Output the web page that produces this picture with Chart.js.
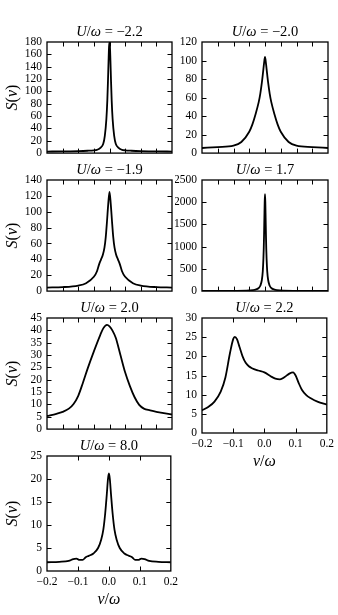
<!DOCTYPE html>
<html>
<head>
<meta charset="utf-8">
<script src="https://cdn.jsdelivr.net/npm/chart.js@4/dist/chart.umd.min.js"></script>
<style>
  html, body { margin: 0; padding: 0; background: #fff; }
  body { width: 338px; height: 615px; position: relative; overflow: hidden; }
  canvas { position: absolute; }
</style>
</head>
<body>
<script>
/* S(nu) spectra for seven U/omega values */

const titles = ['−2.2', '−2.0', '−1.9', '1.7', '2.0', '2.2', '8.0'];

// U/w = -2.2
const nu1 = [-0.2,-0.15,-0.1,-0.07,-0.05,-0.04,-0.03,-0.02,-0.015,-0.01,-0.007,-0.005,-0.003,-0.0015,0,0.0015,0.003,0.005,0.007,0.01,0.015,0.02,0.03,0.04,0.05,0.07,0.1,0.15,0.2];
const s1  = [2.5,2.8,3.2,3.8,4.5,5.3,8,15,28,55,85,115,150,172,180,172,150,115,85,55,28,15,8,5.3,4.5,3.8,3.2,2.8,2.5];

// U/w = -2.0
const nu2 = [-0.2,-0.15,-0.1,-0.075,-0.05,-0.04,-0.03,-0.02,-0.015,-0.01,-0.005,-0.002,0,0.002,0.005,0.01,0.015,0.02,0.03,0.04,0.05,0.075,0.1,0.15,0.2];
const s2  = [5.5,6.5,8,12,23,31,42,55,64,76,91,100,104,100,91,76,64,55,42,31,23,12,8,6.5,5.5];

// U/w = -1.9
const nu3 = [-0.2,-0.15,-0.1,-0.075,-0.05,-0.04,-0.033,-0.027,-0.021,-0.016,-0.012,-0.008,-0.004,0,0.004,0.008,0.012,0.016,0.021,0.027,0.033,0.04,0.05,0.075,0.1,0.15,0.2];
const s3  = [4.5,5,7,10,18,25,34,40,46,55,68,88,110,125,110,88,68,55,46,40,34,25,18,10,7,5,4.5];

// U/w = 1.7
const nu4 = [-0.2,-0.1,-0.05,-0.03,-0.02,-0.015,-0.01,-0.007,-0.005,-0.004,-0.003,-0.002,-0.001,0,0.001,0.002,0.003,0.004,0.005,0.007,0.01,0.015,0.02,0.03,0.05,0.1,0.2];
const s4  = [3,6,15,35,70,120,250,450,740,960,1270,1650,2010,2180,2010,1650,1270,960,740,450,250,120,70,35,15,6,3];

// U/w = 2.0
const nu5 = [-0.2,-0.17,-0.15,-0.13,-0.115,-0.1,-0.085,-0.07,-0.05,-0.03,-0.02,-0.008,0,0.01,0.02,0.035,0.05,0.065,0.08,0.095,0.11,0.13,0.15,0.2];
const s5  = [5.3,6.2,7,8.3,10.2,13.5,18.8,24.5,31.5,38,40.8,42.2,41.6,39.8,37,30,23,17.5,13,9.8,8.3,7.6,7,5.9];

// U/w = 2.2
const nu6 = [-0.2,-0.18,-0.16,-0.14,-0.125,-0.11,-0.1,-0.095,-0.088,-0.08,-0.07,-0.06,-0.05,-0.04,-0.02,0,0.02,0.035,0.05,0.065,0.08,0.092,0.1,0.11,0.12,0.135,0.15,0.17,0.2];
const s6  = [5.9,6.8,8.2,10.8,14.5,21,24.5,25.1,24.5,22.5,20,18.3,17.4,16.9,16.3,15.8,14.8,14.2,14,14.6,15.5,15.8,15,13,11.3,9.8,9,8.2,7.4];

// U/w = 8.0
const nu7 = [-0.2,-0.16,-0.13,-0.115,-0.105,-0.095,-0.085,-0.075,-0.065,-0.05,-0.035,-0.025,-0.018,-0.012,-0.007,-0.003,0,0.003,0.007,0.012,0.018,0.025,0.035,0.05,0.065,0.075,0.085,0.095,0.105,0.115,0.13,0.16,0.2];
const s7  = [1.9,2.0,2.2,2.6,2.7,2.4,2.4,3.0,3.3,3.8,5,6.8,9,12.5,16.5,20,21.2,20,16.5,12.5,9,6.8,5,3.8,3.3,3.0,2.4,2.4,2.7,2.6,2.2,2.0,1.9];

const yMax  = [180, 120, 140, 2500, 45, 30, 25];
const yStep = [20, 20, 20, 500, 5, 5, 5];
const xTickLabels = ['−0.2', '−0.1', '0.0', '0.1', '0.2'];

const SERIF = "'Liberation Serif', 'DejaVu Serif', serif";
const ROWS = [42, 180, 318, 456];

// mixed italic / upright text, roughly like mathtext
function drawRuns(ctx, runs, cx, cy, size, rot) {
  const font = it => (it ? 'italic ' : '') + size + 'px ' + SERIF;
  let w = 0;
  runs.forEach(([t, it]) => { ctx.font = font(it); w += ctx.measureText(t).width; });
  ctx.save();
  ctx.translate(cx, cy);
  ctx.rotate(rot || 0);
  ctx.fillStyle = '#000';
  ctx.textBaseline = 'middle';
  ctx.textAlign = 'left';
  let x = -w / 2;
  runs.forEach(([t, it]) => { ctx.font = font(it); ctx.fillText(t, x, 0); x += ctx.measureText(t).width; });
  ctx.restore();
}

const frame = {
  id: 'frame',
  afterDatasetsDraw(chart, args, o) {
    const { ctx, chartArea: a, scales: { x, y } } = chart;
    const tl = 4.5;
    ctx.save();
    ctx.strokeStyle = '#000';
    ctx.lineWidth = 1;
    ctx.beginPath();
    x.ticks.forEach(t => {
      if (t.value <= x.min + 1e-9 || t.value >= x.max - 1e-9) return;
      const px = Math.round(x.getPixelForValue(t.value)) + 0.5;
      ctx.moveTo(px, a.top); ctx.lineTo(px, a.top + tl);
      ctx.moveTo(px, a.bottom); ctx.lineTo(px, a.bottom - tl);
    });
    y.ticks.forEach(t => {
      if (t.value <= y.min || t.value >= y.max) return;
      const py = Math.round(y.getPixelForValue(t.value)) + 0.5;
      ctx.moveTo(a.left, py); ctx.lineTo(a.left + tl, py);
      ctx.moveTo(a.right, py); ctx.lineTo(a.right - tl, py);
    });
    ctx.stroke();
    ctx.lineWidth = 1.3;
    ctx.strokeRect(a.left, a.top, a.right - a.left, a.bottom - a.top);
    ctx.restore();

    drawRuns(ctx, [['U', true], ['/', false], ['ω', true], [' = ' + o.title, false]],
      (a.left + a.right) / 2, a.top - 10, 14.5);
    if (o.ylab) drawRuns(ctx, [['S', true], ['(', false], ['ν', true], [')', false]],
      13, (a.top + a.bottom) / 2, 16, -Math.PI / 2);
    if (o.xlab) drawRuns(ctx, [['ν', true], ['/', false], ['ω', true]],
      (a.left + a.right) / 2, a.bottom + 29, 16);
  }
};

const panels = [
  { nu: nu1, s: s1, row: 0, col: 0, ylab: true,  xlab: false },
  { nu: nu2, s: s2, row: 0, col: 1, ylab: false, xlab: false },
  { nu: nu3, s: s3, row: 1, col: 0, ylab: true,  xlab: false },
  { nu: nu4, s: s4, row: 1, col: 1, ylab: false, xlab: false },
  { nu: nu5, s: s5, row: 2, col: 0, ylab: true,  xlab: false },
  { nu: nu6, s: s6, row: 2, col: 1, ylab: false, xlab: true },
  { nu: nu7, s: s7, row: 3, col: 0, ylab: true,  xlab: true },
];

panels.forEach((p, i) => {
  const yW = p.col ? 27 : 47;
  const W = p.col ? 163 : 182;
  const xH = p.xlab ? 45 : 8;
  const cv = document.createElement('canvas');
  cv.width = W;
  cv.height = 22 + 115 + xH;
  cv.style.left = (p.col ? 175 : 0) + 'px';
  cv.style.top = (ROWS[p.row] - 22) + 'px';
  document.body.appendChild(cv);

  new Chart(cv, {
    type: 'line',
    data: {
      datasets: [{
        data: p.nu.map((v, k) => ({ x: v, y: p.s[k] })),
        borderColor: '#000',
        borderWidth: 1.8,
        pointRadius: 0,
        fill: false,
        cubicInterpolationMode: 'monotone',
      }]
    },
    options: {
      responsive: false,
      animation: false,
      events: [],
      layout: { padding: { top: 22, right: 10, bottom: 0, left: 0 } },
      plugins: {
        legend: { display: false },
        tooltip: { enabled: false },
        frame: { title: titles[i], ylab: p.ylab, xlab: p.xlab },
      },
      scales: {
        x: {
          type: 'linear',
          min: -0.2, max: 0.2,
          grid: { display: false, drawTicks: false },
          border: { display: false },
          ticks: {
            display: p.xlab,
            autoSkip: false,
            maxRotation: 0,
            stepSize: p.xlab ? 0.1 : 0.05,
            padding: 4,
            color: '#000',
            font: { family: SERIF, size: 11.5 },
            callback: v => xTickLabels[Math.round((v + 0.2) * 10)] ?? '',
          },
          afterFit: s => { s.height = xH; },
        },
        y: {
          min: 0, max: yMax[i],
          grid: { display: false, drawTicks: false },
          border: { display: false },
          ticks: {
            autoSkip: false,
            stepSize: yStep[i],
            padding: 5,
            color: '#000',
            font: { family: SERIF, size: 11.5 },
            callback: v => String(v),
          },
          afterFit: s => { s.width = yW; },
        }
      }
    },
    plugins: [frame]
  });
});
</script>
</body>
</html>
